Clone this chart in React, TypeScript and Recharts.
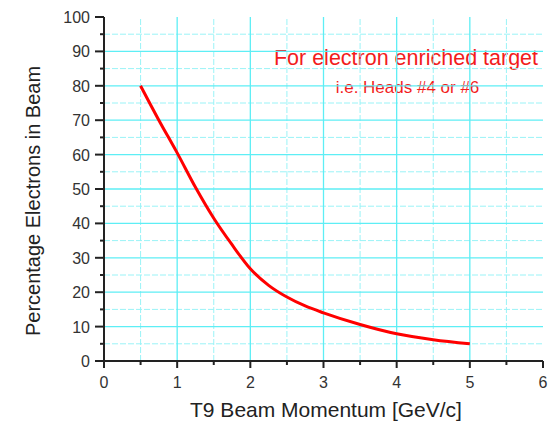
import React from 'react'
import { LineChart, Line, XAxis, YAxis, ReferenceLine, Customized } from 'recharts'

const momentum = [0.5, 0.75, 1, 1.25, 1.5, 1.75, 2, 2.25, 2.5, 2.75, 3, 3.5, 4, 4.5, 5]
const electrons = [80, 70, 60.5, 50.5, 41.5, 33.8, 26.8, 22, 18.6, 16, 14, 10.6, 7.9, 6.2, 5]

const xTicks = [0, 0.5, 1, 1.5, 2, 2.5, 3, 3.5, 4, 4.5, 5, 5.5, 6]
const yTicks = [0, 5, 10, 15, 20, 25, 30, 35, 40, 45, 50, 55, 60, 65, 70, 75, 80, 85, 90, 95, 100]
const xMajorGrid = [1, 2, 3, 4, 5]
const xMinorGrid = [0.5, 1.5, 2.5, 3.5, 4.5, 5.5]
const yMajorGrid = [10, 20, 30, 40, 50, 60, 70, 80, 90]
const yMinorGrid = [5, 15, 25, 35, 45, 55, 65, 75, 85, 95]

const data = momentum.map((m, i) => ({ m, e: electrons[i] }))

const FONT = '"Liberation Sans", Arial, sans-serif'
const AXIS = '#222222'
const MAJOR = '#5eeef5'
const MINOR = '#9af3f7'

function XTick(props: any) {
  const { x, y, payload } = props
  const major = Number.isInteger(payload.value)
  return (
    <g>
      <line x1={x} x2={x} y1={y} y2={y + (major ? 7 : 4)} stroke={AXIS} strokeWidth={2} />
      {major && (
        <text x={x} y={y + 27} textAnchor="middle" fontSize={16} fill="#333" fontFamily={FONT}>
          {payload.value}
        </text>
      )}
    </g>
  )
}

function YTick(props: any) {
  const { x, y, payload } = props
  const major = payload.value % 10 === 0
  return (
    <g>
      <line x1={x} x2={x - (major ? 9 : 4)} y1={y} y2={y} stroke={AXIS} strokeWidth={2} />
      {major && (
        <text x={x - 14} y={y + 6} textAnchor="end" fontSize={16} fill="#333" fontFamily={FONT}>
          {payload.value}
        </text>
      )}
    </g>
  )
}

function Notes() {
  return (
    <g fontFamily={FONT} fill="#f21c1c" textAnchor="middle">
      <text x={406} y={65} fontSize={21.5}>For electron enriched target</text>
      <text x={407.5} y={93} fontSize={17}>i.e. Heads #4 or #6</text>
    </g>
  )
}

export default function App() {
  return (
    <div style={{ position: 'absolute', left: 0, top: 0 }}>
      <LineChart width={555} height={422} data={data} margin={{ top: 17, right: 12, bottom: 0, left: 0 }}>
        {xMinorGrid.map((v) => (
          <ReferenceLine key={'xm' + v} x={v} stroke={MINOR} strokeDasharray="6 2" />
        ))}
        {yMinorGrid.map((v) => (
          <ReferenceLine key={'ym' + v} y={v} stroke={MINOR} strokeDasharray="6 2" />
        ))}
        {xMajorGrid.map((v) => (
          <ReferenceLine key={'xM' + v} x={v} stroke={MAJOR} strokeWidth={1.3} />
        ))}
        {yMajorGrid.map((v) => (
          <ReferenceLine key={'yM' + v} y={v} stroke={MAJOR} strokeWidth={1.3} />
        ))}
        <XAxis
          dataKey="m"
          type="number"
          domain={[0, 6]}
          ticks={xTicks}
          interval={0}
          height={61}
          tickSize={0}
          tickMargin={0}
          tick={<XTick />}
          axisLine={{ stroke: AXIS, strokeWidth: 2 }}
          label={{
            content: (p: any) => (
              <text
                x={p.viewBox.x + p.viewBox.width / 2 + 2.5}
                y={p.viewBox.y + 56}
                textAnchor="middle"
                fontSize={21}
                fill="#222"
                fontFamily={FONT}
              >
                T9 Beam Momentum [GeV/c]
              </text>
            ),
          }}
        />
        <YAxis
          type="number"
          domain={[0, 100]}
          ticks={yTicks}
          interval={0}
          width={104}
          tickSize={0}
          tickMargin={0}
          tick={<YTick />}
          axisLine={{ stroke: AXIS, strokeWidth: 2 }}
          label={{
            content: (p: any) => {
              const cy = p.viewBox.y + p.viewBox.height / 2 + 12
              return (
                <text
                  x={40}
                  y={cy}
                  transform={`rotate(-90 40 ${cy})`}
                  textAnchor="middle"
                  fontSize={20}
                  fill="#222"
                  fontFamily={FONT}
                >
                  Percentage Electrons in Beam
                </text>
              )
            },
          }}
        />
        <Line
          type="monotone"
          dataKey="e"
          stroke="#ff0000"
          strokeWidth={3}
          dot={false}
          isAnimationActive={false}
        />
        <Customized component={<Notes />} />
      </LineChart>
    </div>
  )
}
